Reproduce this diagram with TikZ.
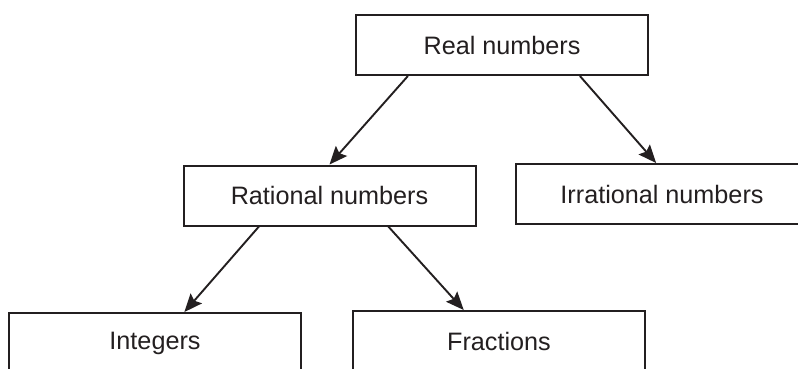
\documentclass[tikz,border=0pt]{standalone}
\usepackage{fontspec}
\setmainfont{Liberation Sans}
\usetikzlibrary{arrows.meta,calc}
\definecolor{ink}{HTML}{231F20}
\begin{document}
\begin{tikzpicture}[x=1pt,y=-1pt,
  box/.style={draw=ink,line width=2pt,fill=white,minimum width=292pt,minimum height=60pt,
    inner sep=0pt,font=\fontsize{25.2pt}{29pt}\selectfont,text=ink},
  arr/.style={draw=ink,line width=1.9pt,-{Stealth[length=18pt,width=15pt,inset=3pt]}}]
\useasboundingbox (0,0) rectangle (798,368);
\clip (0,0) rectangle (798,368);
\fill[white] (0,0) rectangle (798,368);
\node[box] (real) at (502,45) {Real numbers};
\node[box] (rat) at (329.5,195.5) {Rational numbers};
\node[box] (irr) at (662,194) {Irrational numbers};
\node[box] (int) at (155,343) {Integers};
\node[box] (frac) at (499,341) {Fractions};
\draw[arr] ($(real.south west)!0.18!(real.south east)$) -- ($(rat.north west)!0.5!(rat.north east)$);
\draw[arr] ($(real.south west)!0.765!(real.south east)$) -- ($(irr.north west)!0.48!(irr.north east)$);
\draw[arr] ($(rat.south west)!0.26!(rat.south east)$) -- ($(int.north west)!0.6!(int.north east)$);
\draw[arr] ($(rat.south west)!0.70!(rat.south east)$) -- ($(frac.north west)!0.38!(frac.north east)$);
\end{tikzpicture}
\end{document}
